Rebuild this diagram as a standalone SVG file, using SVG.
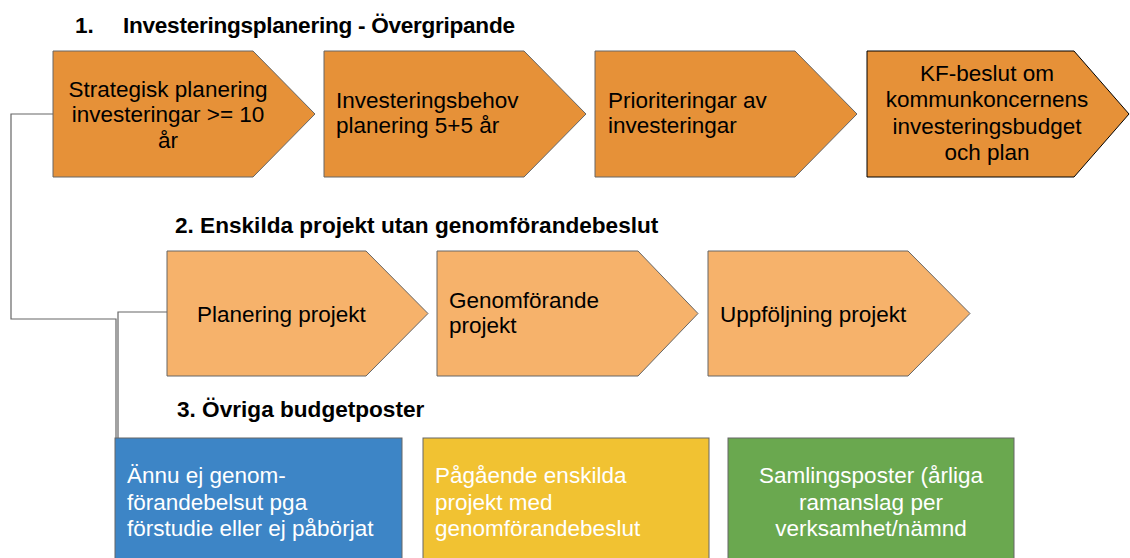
<svg xmlns="http://www.w3.org/2000/svg" width="1130" height="558" viewBox="0 0 1130 558">
<style>
.t{font-family:"Liberation Sans",Arial,sans-serif;font-size:22.5px;fill:#000}
.w{font-family:"Liberation Sans",Arial,sans-serif;font-size:22.5px;fill:#fff}
.h{font-family:"Liberation Sans",Arial,sans-serif;font-size:22.6px;font-weight:bold;fill:#000}
.c{text-anchor:middle}
.o1{fill:#E69138;stroke:#666;stroke-width:1}
.o2{fill:#F6B26B;stroke:#666;stroke-width:1}
.conn{fill:none;stroke:#666;stroke-width:1.2}
</style>
<rect width="1130" height="558" fill="#fff"/>
<g id="titles">
<text class="h" x="75" y="33">1.</text>
<text class="h" x="123" y="33" textLength="392">Investeringsplanering - Övergripande</text>
<text class="h" x="175" y="233">2. Enskilda projekt utan genomförandebeslut</text>
<text class="h" x="177" y="417">3. Övriga budgetposter</text>
</g>
<g id="connectors">
<polyline class="conn" points="53,114 11,114 11,319 116,319 116,438"/>
<polyline class="conn" points="167,312 118,312 118,438"/>
</g>
<g id="n1">
<polygon class="o1" points="53,51 253,51 315,114 253,177 53,177"/>
<text class="t c" x="168"><tspan x="168" y="97">Strategisk planering</tspan><tspan x="168" y="122">investeringar &gt;= 10</tspan><tspan x="168" y="148">år</tspan></text>
</g>
<g id="n2">
<polygon class="o1" points="324,51 524,51 586,114 524,177 324,177"/>
<text class="t"><tspan x="336" y="108">Investeringsbehov</tspan><tspan x="336" y="133">planering 5+5 år</tspan></text>
</g>
<g id="n3">
<polygon class="o1" points="595,51 795,51 857,114 795,177 595,177"/>
<text class="t"><tspan x="608" y="108">Prioriteringar av</tspan><tspan x="608" y="133">investeringar</tspan></text>
</g>
<g id="n4">
<polygon points="867,51 1074,51 1129,114 1074,177 867,177" fill="#E69138" stroke="#000" stroke-width="1"/>
<text class="t c"><tspan x="987" y="81">KF-beslut om</tspan><tspan x="987" y="107">kommunkoncernens</tspan><tspan x="987" y="134">investeringsbudget</tspan><tspan x="987" y="160">och plan</tspan></text>
</g>
<g id="r1">
<polygon class="o2" points="167,251 366,251 428,313.5 366,376 167,376"/>
<text class="t" x="197" y="322">Planering projekt</text>
</g>
<g id="r2">
<polygon class="o2" points="437,251 638,251 698,313.5 638,376 437,376"/>
<text class="t"><tspan x="449" y="308">Genomförande</tspan><tspan x="449" y="333">projekt</tspan></text>
</g>
<g id="r3">
<polygon class="o2" points="708,251 908,251 970,313.5 908,376 708,376"/>
<text class="t" x="720" y="322">Uppföljning projekt</text>
</g>
<g id="b1">
<rect x="115" y="438" width="287" height="130" fill="#3D85C6" stroke="#666" stroke-width="1"/>
<text class="w"><tspan x="127" y="483">Ännu ej genom-</tspan><tspan x="127" y="510">förandebelsut pga</tspan><tspan x="127" y="536">förstudie eller ej påbörjat</tspan></text>
</g>
<g id="b2">
<rect x="423" y="438" width="286" height="130" fill="#F1C232" stroke="#666" stroke-width="1"/>
<text class="w"><tspan x="435" y="483">Pågående enskilda</tspan><tspan x="435" y="510">projekt med</tspan><tspan x="435" y="536">genomförandebeslut</tspan></text>
</g>
<g id="b3">
<rect x="728" y="438" width="286" height="130" fill="#6AA84F" stroke="#666" stroke-width="1"/>
<text class="w c"><tspan x="871" y="483">Samlingsposter (årliga</tspan><tspan x="871" y="510">ramanslag per</tspan><tspan x="871" y="536">verksamhet/nämnd</tspan></text>
</g>
</svg>
